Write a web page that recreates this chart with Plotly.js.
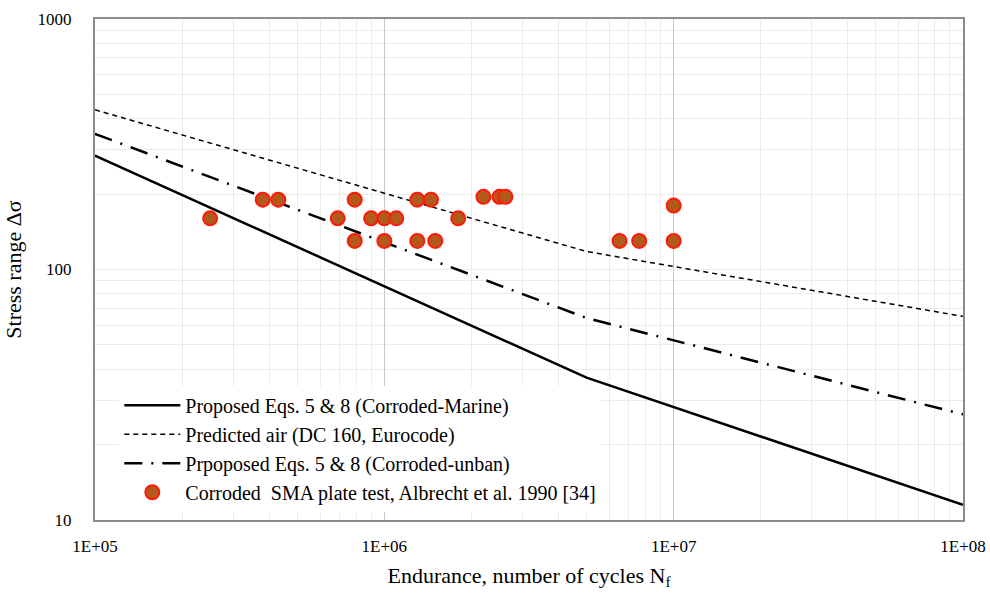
<!DOCTYPE html>
<html>
<head>
<meta charset="utf-8">
<script src="https://cdn.plot.ly/plotly-3.0.1.min.js"></script>
<style>body{margin:0;background:#fff}#chart{width:990px;height:594px}</style>
</head>
<body>
<div id="chart"></div>
<script>
// Proposed Eqs. 5 & 8 (Corroded-Marine)
const marineN = [1e5, 5e6, 1e8];
const marineS = [285, 37, 11.5];
// Predicted air (DC 160, Eurocode)
const airN = [1e5, 5e6, 1e8];
const airS = [434, 118, 65];
// Prpoposed Eqs. 5 & 8 (Corroded-unban)
const urbanN = [1e5, 5e6, 1e8];
const urbanS = [348, 64, 26.4];
// Corroded SMA plate test, Albrecht et al. 1990 [34]
const testN = [2.5e5, 3.8e5, 4.3e5, 6.9e5, 7.9e5, 7.9e5, 9.0e5, 1.0e6, 1.0e6, 1.1e6,
               1.3e6, 1.45e6, 1.3e6, 1.5e6, 1.8e6, 2.2e6, 2.5e6, 2.62e6,
               6.5e6, 7.6e6, 1.0e7, 1.0e7];
const testS = [160, 190, 190, 160, 190, 130, 160, 160, 130, 160,
               190, 190, 130, 130, 160, 195, 195, 195,
               130, 130, 130, 180];

const xTickVals = [1e5, 1e6, 1e7, 1e8];
const xTickText = ['1E+05', '1E+06', '1E+07', '1E+08'];
const yTickVals = [10, 100, 1000];
const yTickText = ['10', '100', '1000'];

const font = 'Times New Roman, Liberation Serif, DejaVu Serif, serif';

const traces = [
  {x: marineN, y: marineS, mode: 'lines', name: 'Proposed Eqs. 5 &amp; 8 (Corroded-Marine)',
   line: {color: '#000', width: 2.5}},
  {x: airN, y: airS, mode: 'lines', name: 'Predicted air (DC 160, Eurocode)',
   line: {color: '#000', width: 1.5, dash: '5px,4px'}},
  {x: urbanN, y: urbanS, mode: 'lines', name: 'Prpoposed Eqs. 5 &amp; 8 (Corroded-unban)',
   line: {color: '#000', width: 2.5, dash: '18px,9px,2px,9px'}},
  {x: testN, y: testS, mode: 'markers', name: 'Corroded  SMA plate test, Albrecht et al. 1990 [34]',
   marker: {color: '#b4591c', size: 14, line: {color: '#ff1a0a', width: 2}}}
];

const layout = {
  width: 990, height: 594,
  margin: {l: 95, r: 27, t: 19, b: 74},
  paper_bgcolor: '#fff', plot_bgcolor: '#fff',
  font: {family: font, size: 17, color: '#000'},
  showlegend: true,
  legend: {x: 0.028, y: 0.268, xanchor: 'left', yanchor: 'top',
           bgcolor: '#fff', font: {family: font, size: 20, color: '#000'},
           itemwidth: 56, tracegroupgap: 0},
  xaxis: {type: 'log', range: [5, 8], tickvals: xTickVals, ticktext: xTickText,
          showline: true, linecolor: '#8c8c8c', linewidth: 2, mirror: true,
          showgrid: true, gridcolor: '#c8c8c8', gridwidth: 1,
          ticks: 'outside', ticklen: 10, tickcolor: 'rgba(0,0,0,0)',
          tickfont: {family: font, size: 17},
          minor: {dtick: 'D1', showgrid: true, gridcolor: '#ebebeb', gridwidth: 1},
          zeroline: false,
          title: {text: 'Endurance, number of cycles N<sub>f</sub>', font: {family: font, size: 22}, standoff: 12}},
  yaxis: {type: 'log', range: [1, 3], tickvals: yTickVals, ticktext: yTickText,
          showline: true, linecolor: '#8c8c8c', linewidth: 2, mirror: true,
          showgrid: true, gridcolor: '#ebebeb', gridwidth: 1,
          ticks: 'outside', ticklen: 18, tickcolor: 'rgba(0,0,0,0)',
          tickfont: {family: font, size: 17},
          minor: {dtick: 'D1', showgrid: true, gridcolor: '#ebebeb', gridwidth: 1},
          zeroline: false,
          title: {text: 'Stress range Δσ', font: {family: font, size: 22}, standoff: 10}}
};

Plotly.newPlot('chart', traces, layout, {displayModeBar: false, staticPlot: true});
</script>
</body>
</html>
